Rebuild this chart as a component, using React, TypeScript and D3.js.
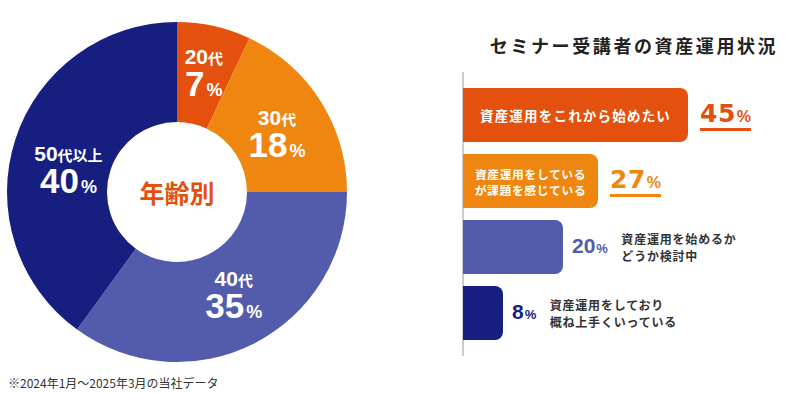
import React from 'react';
import * as d3 from 'd3';

// 年齢別
const ageLabels = ["20代", "30代", "40代", "50代以上"];
const ageValues = [7, 18, 35, 40];
// label placement around the ring: radius and angle nudge (degrees)
const ageLabelRadius = [123, 116, 117, 111];
const ageLabelNudge = [0, 2, -2, -6];

// 資産運用状況
const statusLabels = [
  ["資産運用をこれから始めたい"],
  ["資産運用をしている", "が課題を感じている"],
  ["資産運用を始めるか", "どうか検討中"],
  ["資産運用をしており", "概ね上手くいっている"],
];
const statusValues = [45, 27, 20, 8];
const labelInside = [true, true, false, false];

const colors = ["#E4500E", "#EF860F", "#525BAC", "#161E80"];

const JP = '"Noto Sans CJK JP", "Noto Sans", sans-serif';
const NUM = '"Liberation Sans", Arial, "Noto Sans CJK JP", sans-serif';
const WIDE = '"DejaVu Sans", "Liberation Sans", sans-serif';

const App = () => {
  const svgRef = React.useRef<SVGSVGElement>(null);

  React.useEffect(() => {
    document.body.style.margin = "0";
    const svg = d3.select(svgRef.current);
    svg.selectAll("*").remove();

    // ---- donut ----
    const cx = 177, cy = 192;
    const pie = d3.pie<number>().sort(null).value(d => d);
    const arcs = pie(ageValues);
    const arc = d3.arc<d3.PieArcDatum<number>>().innerRadius(70).outerRadius(170);

    const g = svg.append("g").attr("transform", `translate(${cx},${cy})`);
    g.selectAll("path")
      .data(arcs)
      .join("path")
      .attr("d", arc)
      .attr("fill", (d, i) => colors[i]);

    arcs.forEach((d, i) => {
      const a = (d.startAngle + d.endAngle) / 2 + (ageLabelNudge[i] * Math.PI) / 180;
      const lx = Math.sin(a) * ageLabelRadius[i];
      const ly = -Math.cos(a) * ageLabelRadius[i];
      const m = ageLabels[i].match(/^(\d+)(.*)$/)!;
      const t1 = g.append("text")
        .attr("x", lx).attr("y", ly - 8)
        .attr("text-anchor", "middle")
        .attr("fill", "#fff")
        .attr("font-weight", "bold");
      t1.append("tspan").attr("font-family", NUM).attr("font-size", 21).text(m[1]);
      t1.append("tspan").attr("font-family", JP).attr("font-size", 15).text(m[2]);

      const t2 = g.append("text")
        .attr("x", lx).attr("y", ly + 24)
        .attr("text-anchor", "middle")
        .attr("fill", "#fff")
        .attr("font-weight", "bold");
      t2.append("tspan").attr("font-family", NUM).attr("font-size", 35).text(String(d.data));
      t2.append("tspan").attr("font-family", NUM).attr("font-size", 18).attr("dx", 2).text("%");
    });

    g.append("text")
      .attr("text-anchor", "middle")
      .attr("dominant-baseline", "central")
      .attr("font-family", JP)
      .attr("font-weight", "bold")
      .attr("font-size", 25)
      .attr("fill", colors[0])
      .text("年齢別");

    // ---- bars ----
    const x0 = 463;
    const x = d3.scaleLinear().domain([0, 45]).range([0, 225]);
    const y = d3.scaleBand<number>()
      .domain(d3.range(statusValues.length))
      .range([82, 346])
      .paddingInner(0.18)
      .paddingOuter(0.09);

    svg.append("text")
      .attr("x", 634).attr("y", 45)
      .attr("text-anchor", "middle")
      .attr("dominant-baseline", "central")
      .attr("font-family", JP)
      .attr("font-weight", "bold")
      .attr("font-size", 18)
      .attr("letter-spacing", 2.6)
      .attr("fill", "#222")
      .text("セミナー受講者の資産運用状況");

    svg.append("line")
      .attr("x1", x0).attr("x2", x0)
      .attr("y1", 72).attr("y2", 356)
      .attr("stroke", "#999")
      .attr("stroke-width", 1);

    const r = 8;
    statusValues.forEach((v, i) => {
      const top = y(i)!;
      const h = y.bandwidth();
      const w = x(v);
      const right = x0 + w;
      const cyBar = top + h / 2;
      const p = d3.path();
      p.moveTo(x0, top);
      p.lineTo(right - r, top);
      p.arcTo(right, top, right, top + r, r);
      p.lineTo(right, top + h - r);
      p.arcTo(right, top + h, right - r, top + h, r);
      p.lineTo(x0, top + h);
      p.closePath();
      svg.append("path").attr("d", p.toString()).attr("fill", colors[i]);

      const lines = statusLabels[i];
      const inside = labelInside[i];
      const cap = inside ? 18 : 15;
      const base = cyBar + cap / 2 - 2;

      // value label
      const vt = svg.append("text")
        .attr("x", right + (inside ? 12 : 9))
        .attr("y", base)
        .attr("fill", colors[i])
        .attr("font-weight", "bold");
      if (inside) {
        vt.append("tspan").attr("font-family", WIDE).attr("font-size", 25).attr("letter-spacing", 0.5).text(String(v));
        vt.append("tspan").attr("font-family", NUM).attr("font-size", 16).attr("dx", 1).text("%");
      } else {
        vt.append("tspan").attr("font-family", NUM).attr("font-size", 21).text(String(v));
        vt.append("tspan").attr("font-family", NUM).attr("font-size", 13).attr("dx", 1).text("%");
      }
      const bb = (vt.node() as SVGTextElement).getBBox();

      if (inside) {
        svg.append("rect")
          .attr("x", bb.x)
          .attr("y", base + 6)
          .attr("width", bb.width)
          .attr("height", 3)
          .attr("fill", colors[i]);

        const fs = lines.length > 1 ? 11.8 : 13.5;
        const ls = lines.length > 1 ? 0.6 : 1.2;
        lines.forEach((s, j) => {
          svg.append("text")
            .attr("x", x0 + w / 2)
            .attr("y", cyBar + (lines.length > 1 ? (j === 0 ? -8 : 8) : 0))
            .attr("text-anchor", "middle")
            .attr("dominant-baseline", "central")
            .attr("font-family", JP)
            .attr("font-weight", "bold")
            .attr("font-size", fs)
            .attr("letter-spacing", ls)
            .attr("fill", "#fff")
            .text(s);
        });
      } else {
        lines.forEach((s, j) => {
          svg.append("text")
            .attr("x", bb.x + bb.width + 13)
            .attr("y", cyBar + (j === 0 ? -8.5 : 8.5))
            .attr("dominant-baseline", "central")
            .attr("font-family", JP)
            .attr("font-weight", "bold")
            .attr("font-size", 12)
            .attr("letter-spacing", 0.8)
            .attr("fill", "#333")
            .text(s);
        });
      }
    });

    // footnote
    svg.append("text")
      .attr("x", 8).attr("y", 382)
      .attr("dominant-baseline", "central")
      .attr("font-family", JP)
      .attr("font-size", 12)
      .attr("fill", "#333")
      .text("※2024年1月～2025年3月の当社データ");
  }, []);

  return <svg ref={svgRef} width={793} height={393} style={{ display: "block", background: "#fff" }} />;
};

export default App;
